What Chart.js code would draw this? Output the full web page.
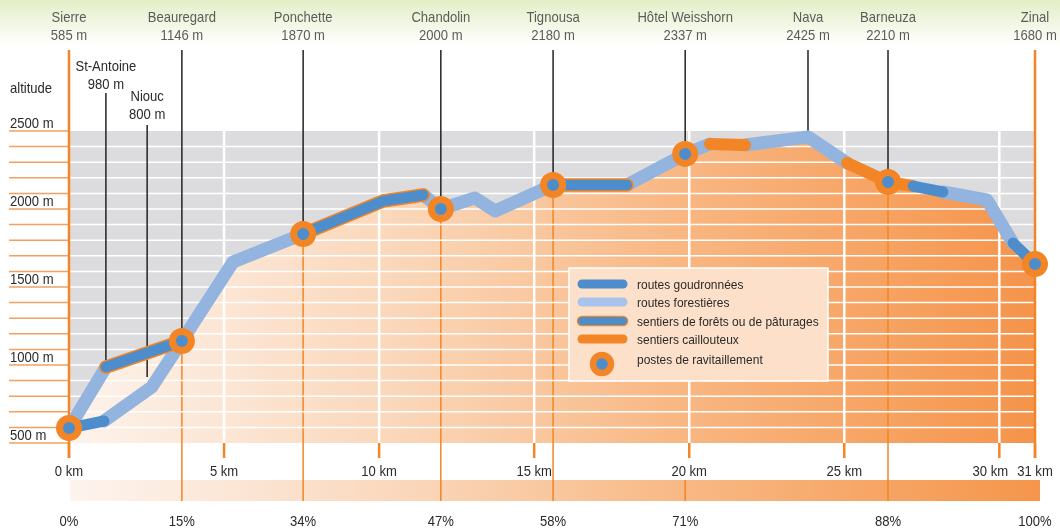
<!DOCTYPE html>
<html><head><meta charset="utf-8">
<script src="https://cdn.jsdelivr.net/npm/chart.js@4.4.1/dist/chart.umd.min.js"></script>
<style>html,body{margin:0;padding:0;background:#fff;overflow:hidden}</style>
</head><body>
<canvas id="c" width="1060" height="528"></canvas>
<script>
const FONT = '"Liberation Sans",Arial,Helvetica,sans-serif';
const SX = 0.9; // horizontal condensing of text

// ---- data (km, altitude m) ----
const profileKm  = [0,1.19,3.64,5.29,7.55,10.13,11.42,11.99,13.09,13.74,15.61,17.99,19.87,20.67,21.80,23.83,25.09,26.41,27.22,28.18,29.60,30.44,31.15];
const profileAlt = [596,987,1154,1660,1840,2051,2090,2000,2071,1987,2154,2154,2353,2417,2410,2462,2295,2173,2147,2109,2058,1782,1647];

const forestSegs = [
  [[0,596],[1.19,987]],
  [[1.13,641],[2.67,859],[3.64,1154],[5.29,1660],[7.55,1840]],
  [[11.42,2090],[11.99,2000],[13.09,2071],[13.74,1987],[15.61,2154]],
  [[17.99,2154],[19.87,2353],[20.67,2417]],
  [[21.80,2410],[23.83,2462],[25.09,2295]],
  [[28.18,2109],[29.60,2058],[30.44,1782]]
];
const trailSegs = [
  [[1.19,987],[3.64,1154]],
  [[7.55,1840],[10.13,2051],[11.42,2090]],
  [[15.61,2154],[17.99,2154]]
];
const roadSegs = [
  [[0,596],[1.13,641]],
  [[27.22,2147],[28.18,2109]],
  [[30.44,1782],[31.15,1647]]
];
const rockySegs = [
  [[20.67,2417],[21.80,2410]],
  [[25.09,2295],[26.41,2173],[27.22,2147]]
];

const cpKm  = [0,3.64,7.55,11.99,15.61,19.87,26.41,31.15];
const cpAlt = [596,1154,1840,2000,2154,2353,2173,1647];
const cpPct = ['0%','15%','34%','47%','58%','71%','88%','100%'];

const topNames = ['Sierre','Beauregard','Ponchette','Chandolin','Tignousa','Hôtel Weisshorn','Nava','Barneuza','Zinal'];
const topAlts  = ['585 m','1146 m','1870 m','2000 m','2180 m','2337 m','2425 m','2210 m','1680 m'];
const topKm    = [0,3.64,7.55,11.99,15.61,19.87,23.83,26.41,31.15];
const topEnd   = [596,1154,1840,2000,2154,2353,2462,2173,1647];

const subNames = ['St-Antoine','Niouc'];
const subAlts  = ['980 m','800 m'];
const subKm    = [1.19,2.52];
const subEnd   = [987,923];

const yTickStep = 100;
const yLabelValues = [500,1000,1500,2000,2500];
const kmGridStep = 5;
const kmTickValues = [0,5,10,15,20,25,30,31.15];
const kmTickLabels = ['0 km','5 km','10 km','15 km','20 km','25 km','30 km','31 km'];
const legendLabels = ['routes goudronnées','routes forestières','sentiers de forêts ou de pâturages','sentiers caillouteux','postes de ravitaillement'];

// ---- styles ----
const C = {
  dark:'#4d8dcb', light:'#93b4df', orange:'#f28525', grey:'#dcdcde',
  text:'#2a2a2a', topText:'#5c5c5c', tick:'#f4a060'
};

const toPts = seg => seg.map(p => ({x:p[0], y:p[1]}));
let ord = 100;
const lineDs = (seg, color, w) => ({
  data: toPts(seg), borderColor: color, borderWidth: w, backgroundColor:'transparent',
  borderCapStyle:'round', borderJoinStyle:'round', pointRadius:0, fill:false, clip:false, tension:0,
  order: ord--
});

const datasets = [];
datasets.push({
  data: profileKm.map((k,i)=>({x:k,y:profileAlt[i]})),
  borderWidth:0, pointRadius:0, fill:'start', tension:0, order: 1000,
  backgroundColor: ctx => {
    const ch = ctx.chart, a = ch.chartArea;
    if (!a) return 'rgba(0,0,0,0)';
    const g = ch.ctx.createLinearGradient(a.left,0,a.right,0);
    g.addColorStop(0,'#fdf3ec'); g.addColorStop(0.35,'#fad6b8');
    g.addColorStop(0.65,'#f8b57f'); g.addColorStop(1,'#f5944b');
    return g;
  }
});
forestSegs.forEach(s => datasets.push(lineDs(s, C.light, 13)));
rockySegs.forEach(s => datasets.push(lineDs(s, C.orange, 12)));
trailSegs.forEach(s => datasets.push(lineDs(s, C.orange, 13.5)));
trailSegs.forEach(s => datasets.push(lineDs(s, C.dark, 10.5)));
roadSegs.forEach(s => datasets.push(lineDs(s, C.dark, 11)));
datasets.push({
  data: cpKm.map((k,i)=>({x:k,y:cpAlt[i]})), showLine:false, clip:false, order: 0,
  pointRadius:9.5, pointBorderWidth:7, pointBorderColor:C.orange, pointBackgroundColor:C.dark,
  pointHoverRadius:9.5
});

function line(ctx,x1,y1,x2,y2,color,w){
  ctx.save(); ctx.strokeStyle=color; ctx.lineWidth=w; ctx.beginPath();
  ctx.moveTo(x1,y1); ctx.lineTo(x2,y2); ctx.stroke(); ctx.restore();
}
function text(ctx,s,x,y,align,color,size){
  ctx.save(); ctx.font = size+'px '+FONT; ctx.fillStyle=color; ctx.textAlign=align;
  ctx.textBaseline='alphabetic'; ctx.translate(x,y); ctx.scale(SX,1); ctx.fillText(s,0,0); ctx.restore();
}

const BAR_TOP = 480, BAR_BOT = 501;

const deco = {
  id:'deco',
  beforeDatasetsDraw(ch){
    const ctx = ch.ctx, a = ch.chartArea, X = ch.scales.x, Y = ch.scales.y;
    const g = ctx.createLinearGradient(0,0,0,46);
    g.addColorStop(0,'#e3eec6'); g.addColorStop(1,'#ffffff');
    ctx.fillStyle = g; ctx.fillRect(0,0,ch.width,46);
    ctx.fillStyle = C.grey; ctx.fillRect(a.left,a.top,a.right-a.left,a.bottom-a.top);
    for (let v = Y.min; v <= Y.max; v += yTickStep){
      const y = Y.getPixelForValue(v);
      line(ctx,9,y,a.left,y,C.tick,1.5);
    }
    yLabelValues.forEach(v => text(ctx, v+' m', 10, Y.getPixelForValue(v)-3, 'left', C.text, 14.5));
    text(ctx,'altitude',10,93,'left',C.text,14.5);
    topNames.forEach((n,i)=>{
      const x = X.getPixelForValue(topKm[i]);
      text(ctx,n,x,22,'center',C.topText,14.5);
      text(ctx,topAlts[i],x,40,'center',C.topText,14.5);
    });
    const subBase = [71,101];
    subNames.forEach((n,i)=>{
      const x = X.getPixelForValue(subKm[i]);
      text(ctx,n,x,subBase[i],'center',C.text,14.5);
      text(ctx,subAlts[i],x,subBase[i]+18,'center',C.text,14.5);
    });
  },
  afterDatasetDraw(ch,args){
    if (args.index !== 0) return;
    const ctx = ch.ctx, a = ch.chartArea, X = ch.scales.x, Y = ch.scales.y;
    const gridXs = [];
    for (let k = kmGridStep; k <= 30; k += kmGridStep) gridXs.push(X.getPixelForValue(k));
    // percent bar
    const bg = ctx.createLinearGradient(a.left,0,a.right,0);
    bg.addColorStop(0,'#fdf4ef'); bg.addColorStop(0.35,'#fad7bb');
    bg.addColorStop(0.65,'#f8b782'); bg.addColorStop(1,'#f5964c');
    ctx.fillStyle = bg; ctx.fillRect(a.left+1,BAR_TOP,a.right+5-a.left-1,BAR_BOT-BAR_TOP);
    // drop lines (hidden under a km gridline when they coincide)
    cpKm.forEach((k,i)=>{
      if (i===0 || i===cpKm.length-1) return;
      const x = X.getPixelForValue(k);
      const onGrid = gridXs.some(gx => Math.abs(gx-x) < 6);
      line(ctx,x,onGrid ? BAR_TOP : Y.getPixelForValue(cpAlt[i]),x,BAR_BOT,C.orange,1.5);
    });
    // white grid
    for (let v = Y.min + yTickStep; v < Y.max; v += yTickStep){
      const y = Y.getPixelForValue(v);
      line(ctx,a.left,y,a.right,y,'#ffffff',1.5);
    }
    gridXs.forEach(x => line(ctx,x,a.top,x,a.bottom,'#ffffff',2.5));
    // start / finish lines
    [0,cpKm.length-1].forEach(i=>{
      const x = X.getPixelForValue(cpKm[i]);
      line(ctx,x,50,x,a.bottom+15,C.orange,2.5);
    });
    kmTickValues.forEach((k,i)=>{
      const x = X.getPixelForValue(k);
      line(ctx,x,a.bottom,x,a.bottom+15,C.orange,2.5);
      const dx = (i === kmTickValues.length-2) ? -9 : 0;
      text(ctx,kmTickLabels[i],x+dx,476,'center',C.text,14.5);
    });
    cpKm.forEach((k,i)=> text(ctx,cpPct[i],X.getPixelForValue(k),526,'center',C.text,14.5));
    topNames.forEach((n,i)=>{
      if (i===0 || i===topNames.length-1) return;
      const x = X.getPixelForValue(topKm[i]);
      line(ctx,x,50,x,Y.getPixelForValue(topEnd[i]),'#222222',1.5);
    });
    const subTop = [93,125];
    subNames.forEach((n,i)=>{
      const x = X.getPixelForValue(subKm[i]);
      line(ctx,x,subTop[i],x,Y.getPixelForValue(subEnd[i]),'#222222',1.5);
    });
  },
  afterDraw(ch){
    const ctx = ch.ctx;
    const L = 569, T = 268, W = 259, H = 113;
    ctx.save();
    ctx.fillStyle = '#fde0c9'; ctx.fillRect(L,T,W,H);
    ctx.strokeStyle = '#ffffff'; ctx.lineWidth = 1.5; ctx.strokeRect(L,T,W,H);
    ctx.restore();
    const rows = [284,302,321,339,364];
    const seg = (y,color,w)=>{ ctx.save(); ctx.strokeStyle=color; ctx.lineWidth=w; ctx.lineCap='round';
      ctx.beginPath(); ctx.moveTo(L+13,y); ctx.lineTo(L+54,y); ctx.stroke(); ctx.restore(); };
    seg(rows[0],C.dark,9);
    seg(rows[1],'#a8c4ec',9);
    seg(rows[2],C.orange,10.5); seg(rows[2],C.dark,8);
    seg(rows[3],C.orange,9);
    ctx.save(); ctx.beginPath(); ctx.arc(L+33,rows[4],9,0,Math.PI*2);
    ctx.lineWidth=6.5; ctx.strokeStyle=C.orange; ctx.fillStyle=C.dark; ctx.fill(); ctx.stroke(); ctx.restore();
    legendLabels.forEach((s,i)=> text(ctx,s,L+68,rows[i]+ (i===4?0:5),'left',C.text,13.3));
  }
};

new Chart(document.getElementById('c'), {
  type:'line',
  data:{datasets},
  options:{
    responsive:false, animation:false, events:[],
    layout:{padding:{left:69,right:25,top:131,bottom:85}},
    scales:{
      x:{type:'linear',min:0,max:31.15,display:false},
      y:{type:'linear',min:500,max:2500,display:false}
    },
    plugins:{legend:{display:false},tooltip:{enabled:false}}
  },
  plugins:[deco]
});
</script>
</body></html>
